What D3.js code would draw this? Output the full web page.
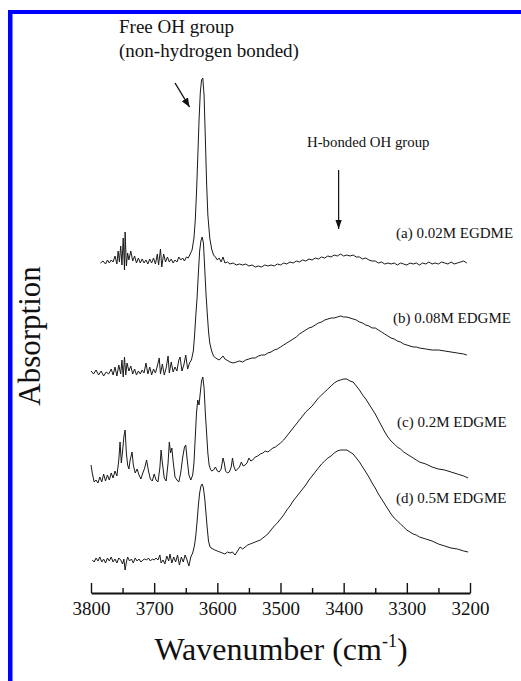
<!DOCTYPE html>
<html>
<head>
<meta charset="utf-8">
<script src="https://cdn.jsdelivr.net/npm/d3@7"></script>
<style>
  html, body { margin: 0; padding: 0; background: #fff; }
  svg { display: block; }
  text { font-family: "Liberation Serif", "DejaVu Serif", serif; fill: #111; }
</style>
</head>
<body>
<div id="chart"></div>
<script>
// ---------- DATA ----------
const xTicksMajor = [3800, 3700, 3600, 3500, 3400, 3300, 3200];
const xTicksMinor = [3750, 3650, 3550, 3450, 3350, 3250];
const seriesLabels = ["(a) 0.02M EGDME", "(b) 0.08M EDGME", "(c) 0.2M EDGME", "(d) 0.5M EDGME"];

// [wavenumber (cm-1), absorption (offset, a.u.)]
const specA = [
[3785,3.30],[3781,3.32],[3777,3.29],[3774,3.33],[3771,3.30],[3768,3.33],[3765,3.31],[3762,3.37],[3759,3.29],[3757,3.42],
[3755,3.31],[3753,3.47],[3751,3.28],[3749,3.55],[3747,3.23],[3746,3.61],[3744,3.27],[3742,3.40],[3740,3.33],[3737,3.42],
[3734,3.32],[3731,3.37],[3728,3.30],[3725,3.35],[3722,3.30],[3719,3.34],[3716,3.30],[3713,3.33],[3710,3.29],[3707,3.34],
[3704,3.30],[3701,3.35],[3698,3.29],[3695,3.39],[3693,3.28],[3690,3.44],[3688,3.26],[3685,3.39],[3682,3.31],[3679,3.36],
[3676,3.31],[3673,3.34],[3670,3.30],[3667,3.33],[3664,3.31],[3661,3.36],[3658,3.33],[3655,3.35],[3652,3.32],[3649,3.36],
[3646,3.35],[3643,3.39],[3640,3.43],[3637,3.55],[3635,3.72],[3633,4.00],[3631,4.35],[3629,4.72],[3627,5.00],[3625,5.13],
[3623,5.15],[3621,4.98],[3619,4.55],[3617,4.10],[3615,3.78],[3612,3.55],[3609,3.44],[3606,3.38],[3603,3.36],[3600,3.33],
[3597,3.35],[3594,3.31],[3591,3.36],[3588,3.30],[3584,3.31],[3580,3.29],[3575,3.30],[3570,3.28],[3565,3.29],[3560,3.28],
[3555,3.29],[3550,3.27],[3545,3.28],[3540,3.26],[3535,3.27],[3530,3.26],[3525,3.28],[3520,3.27],[3515,3.28],[3510,3.27],
[3505,3.29],[3500,3.28],[3495,3.30],[3490,3.29],[3485,3.31],[3480,3.30],[3475,3.32],[3470,3.31],[3465,3.33],[3460,3.32],
[3455,3.34],[3450,3.33],[3445,3.35],[3440,3.34],[3435,3.36],[3430,3.35],[3425,3.37],[3420,3.36],[3415,3.38],[3410,3.37],
[3405,3.39],[3400,3.37],[3395,3.38],[3390,3.37],[3385,3.38],[3380,3.36],[3375,3.36],[3370,3.34],[3365,3.35],[3360,3.33],
[3355,3.32],[3350,3.32],[3345,3.30],[3340,3.31],[3335,3.29],[3330,3.30],[3325,3.29],[3320,3.30],[3315,3.28],[3310,3.30],
[3305,3.29],[3300,3.28],[3295,3.30],[3290,3.29],[3285,3.30],[3280,3.28],[3275,3.30],[3270,3.29],[3265,3.31],[3260,3.29],
[3255,3.30],[3250,3.29],[3245,3.31],[3240,3.30],[3235,3.29],[3230,3.31],[3225,3.29],[3220,3.30],[3215,3.31],[3210,3.32],[3205,3.30]
];

const specB = [
[3800,2.22],[3796,2.19],[3792,2.23],[3788,2.18],[3784,2.22],[3780,2.17],[3776,2.21],[3772,2.19],[3768,2.24],[3765,2.18],
[3762,2.26],[3759,2.17],[3756,2.28],[3753,2.19],[3751,2.33],[3749,2.16],[3747,2.36],[3745,2.18],[3743,2.30],[3740,2.22],
[3737,2.27],[3734,2.19],[3731,2.24],[3728,2.18],[3725,2.22],[3722,2.19],[3719,2.23],[3716,2.20],[3713,2.30],[3710,2.19],
[3707,2.26],[3704,2.18],[3701,2.24],[3698,2.20],[3695,2.27],[3692,2.35],[3690,2.19],[3687,2.29],[3684,2.18],[3681,2.25],
[3678,2.37],[3676,2.20],[3673,2.31],[3670,2.21],[3667,2.26],[3664,2.22],[3661,2.33],[3659,2.36],[3656,2.22],[3653,2.28],
[3650,2.38],[3647,2.24],[3644,2.30],[3641,2.33],[3638,2.42],[3636,2.58],[3634,2.78],[3632,2.96],[3630,3.20],[3628,3.42],
[3626,3.52],[3624,3.56],[3622,3.50],[3620,3.25],[3618,3.00],[3616,2.80],[3614,2.62],[3612,2.50],[3609,2.42],[3606,2.37],
[3603,2.35],[3600,2.34],[3597,2.33],[3594,2.35],[3591,2.37],[3588,2.34],[3585,2.33],[3580,2.31],[3575,2.30],[3570,2.31],
[3565,2.32],[3560,2.31],[3555,2.33],[3550,2.34],[3545,2.35],[3540,2.35],[3535,2.37],[3530,2.38],[3525,2.38],[3520,2.40],
[3515,2.41],[3510,2.43],[3505,2.44],[3500,2.46],[3495,2.48],[3490,2.50],[3485,2.52],[3480,2.54],[3475,2.56],[3470,2.59],
[3465,2.61],[3460,2.63],[3455,2.65],[3450,2.66],[3445,2.68],[3440,2.70],[3435,2.71],[3430,2.73],[3425,2.74],[3420,2.75],
[3415,2.75],[3410,2.76],[3405,2.77],[3400,2.76],[3395,2.76],[3390,2.75],[3385,2.74],[3380,2.73],[3375,2.71],[3370,2.70],
[3365,2.68],[3360,2.67],[3355,2.65],[3350,2.65],[3345,2.63],[3340,2.61],[3335,2.59],[3330,2.57],[3325,2.55],[3320,2.54],
[3315,2.52],[3310,2.51],[3305,2.49],[3300,2.48],[3295,2.47],[3290,2.46],[3285,2.46],[3280,2.45],[3270,2.44],[3260,2.43],
[3250,2.43],[3240,2.42],[3230,2.41],[3220,2.40],[3210,2.39],[3205,2.38]
];

const specC = [
[3800,1.28],[3798,1.20],[3795,1.11],[3792,1.13],[3789,1.10],[3786,1.16],[3783,1.11],[3780,1.19],[3777,1.12],[3774,1.18],
[3771,1.13],[3768,1.20],[3765,1.15],[3762,1.22],[3759,1.17],[3756,1.33],[3754,1.51],[3752,1.30],[3750,1.42],[3748,1.56],
[3746,1.63],[3744,1.40],[3742,1.28],[3740,1.24],[3738,1.33],[3735,1.41],[3733,1.28],[3730,1.20],[3727,1.24],[3724,1.18],
[3721,1.14],[3718,1.20],[3715,1.25],[3712,1.33],[3709,1.22],[3706,1.14],[3703,1.12],[3700,1.19],[3697,1.13],[3694,1.11],
[3691,1.25],[3689,1.43],[3687,1.30],[3684,1.15],[3681,1.12],[3678,1.30],[3676,1.51],[3674,1.40],[3672,1.45],[3670,1.32],
[3667,1.16],[3664,1.13],[3661,1.11],[3658,1.20],[3655,1.35],[3652,1.46],[3650,1.48],[3648,1.35],[3645,1.18],[3642,1.13],
[3639,1.18],[3637,1.30],[3635,1.55],[3633,1.80],[3631,1.93],[3629,1.88],[3627,2.00],[3625,2.12],[3623,2.16],[3621,2.05],
[3619,1.80],[3617,1.60],[3615,1.40],[3613,1.28],[3611,1.24],[3609,1.22],[3606,1.23],[3603,1.26],[3600,1.22],[3597,1.21],
[3594,1.24],[3591,1.35],[3589,1.30],[3587,1.22],[3584,1.20],[3581,1.21],[3578,1.26],[3576,1.35],[3574,1.27],[3571,1.22],
[3568,1.24],[3565,1.26],[3562,1.31],[3559,1.27],[3556,1.28],[3553,1.30],[3550,1.35],[3547,1.32],[3544,1.33],[3540,1.36],
[3536,1.37],[3532,1.39],[3528,1.40],[3524,1.42],[3520,1.41],[3516,1.43],[3512,1.45],[3508,1.46],[3504,1.48],[3500,1.50],
[3495,1.53],[3490,1.57],[3485,1.61],[3480,1.65],[3475,1.69],[3470,1.73],[3465,1.77],[3460,1.81],[3455,1.84],[3450,1.87],
[3445,1.91],[3440,1.95],[3435,1.98],[3430,2.01],[3425,2.04],[3420,2.07],[3415,2.10],[3410,2.12],[3405,2.13],[3400,2.14],
[3395,2.14],[3390,2.12],[3385,2.11],[3380,2.07],[3375,2.03],[3370,1.98],[3365,1.94],[3360,1.89],[3355,1.84],[3350,1.79],
[3345,1.73],[3340,1.67],[3335,1.61],[3330,1.56],[3325,1.52],[3320,1.49],[3315,1.46],[3310,1.44],[3305,1.41],[3300,1.39],
[3295,1.37],[3290,1.35],[3285,1.33],[3280,1.31],[3270,1.29],[3260,1.26],[3250,1.24],[3240,1.23],[3230,1.21],[3220,1.19],
[3210,1.17],[3203,1.15]
];

const specD = [
[3798,0.33],[3795,0.31],[3792,0.35],[3789,0.32],[3786,0.36],[3783,0.31],[3780,0.34],[3777,0.30],[3774,0.35],[3771,0.32],
[3768,0.36],[3765,0.31],[3762,0.34],[3759,0.30],[3756,0.35],[3753,0.33],[3750,0.29],[3748,0.34],[3746,0.23],[3744,0.31],
[3742,0.36],[3739,0.32],[3736,0.34],[3733,0.30],[3730,0.35],[3727,0.32],[3724,0.34],[3721,0.31],[3718,0.33],[3715,0.34],
[3712,0.33],[3709,0.35],[3706,0.32],[3703,0.34],[3700,0.33],[3697,0.35],[3694,0.33],[3691,0.38],[3689,0.30],[3686,0.33],
[3683,0.29],[3680,0.37],[3677,0.32],[3675,0.39],[3672,0.30],[3669,0.36],[3666,0.31],[3663,0.38],[3660,0.28],[3657,0.36],
[3654,0.31],[3651,0.38],[3648,0.33],[3645,0.27],[3642,0.36],[3639,0.40],[3636,0.48],[3634,0.58],[3632,0.72],[3630,0.88],
[3628,1.00],[3626,1.07],[3624,1.09],[3622,1.05],[3620,0.95],[3618,0.80],[3616,0.65],[3614,0.52],[3612,0.47],[3610,0.45],
[3607,0.44],[3604,0.43],[3600,0.42],[3596,0.41],[3592,0.40],[3588,0.39],[3584,0.41],[3580,0.40],[3576,0.41],[3572,0.38],
[3568,0.42],[3564,0.46],[3560,0.44],[3556,0.46],[3552,0.48],[3548,0.49],[3544,0.50],[3540,0.51],[3536,0.52],[3532,0.53],
[3528,0.55],[3524,0.57],[3520,0.59],[3515,0.63],[3510,0.67],[3505,0.70],[3500,0.74],[3495,0.78],[3490,0.83],[3485,0.87],
[3480,0.92],[3475,0.96],[3470,1.00],[3465,1.04],[3460,1.08],[3455,1.13],[3450,1.17],[3445,1.21],[3440,1.25],[3435,1.29],
[3430,1.32],[3425,1.35],[3420,1.37],[3415,1.40],[3410,1.42],[3405,1.43],[3400,1.43],[3395,1.43],[3390,1.41],[3385,1.39],
[3380,1.35],[3375,1.31],[3370,1.26],[3365,1.21],[3360,1.16],[3355,1.10],[3350,1.05],[3345,0.99],[3340,0.94],[3335,0.89],
[3330,0.84],[3325,0.79],[3320,0.75],[3315,0.72],[3310,0.69],[3305,0.66],[3300,0.63],[3295,0.61],[3290,0.59],[3285,0.58],
[3280,0.56],[3270,0.54],[3260,0.52],[3250,0.49],[3240,0.47],[3230,0.45],[3220,0.44],[3210,0.42],[3203,0.41]
];

const spectra = [specA, specB, specC, specD];

// ---------- CHART ----------
const W = 521, H = 681;
const svg = d3.select("#chart").append("svg").attr("width", W).attr("height", H);
svg.append("rect").attr("width", W).attr("height", H).attr("fill", "#fff");

// blue frame
svg.append("rect").attr("x", 8).attr("y", 10).attr("width", 4.5).attr("height", H - 10).attr("fill", "#0000ff");
svg.append("rect").attr("x", 8).attr("y", 10).attr("width", W - 8).attr("height", 4).attr("fill", "#0000ff");

const x = d3.scaleLinear().domain([3800, 3200]).range([91, 470]);
const y = d3.scaleLinear().domain([0, 5.2]).range([593, 73]);

const line = d3.line().x(d => x(d[0])).y(d => y(d[1]));

svg.append("g").selectAll("path").data(spectra).join("path")
  .attr("d", line).attr("fill", "none").attr("stroke", "#1a1a1a")
  .attr("stroke-width", 1).attr("stroke-linejoin", "round");

// axis
const axisY = y(0);
const gAx = svg.append("g").attr("transform", `translate(0,${axisY})`)
  .call(d3.axisBottom(x).tickValues(xTicksMajor).tickSize(-10).tickSizeOuter(0).tickPadding(9).tickFormat(d3.format("d")));
gAx.select(".domain").attr("stroke", "#111").attr("stroke-width", 1.8);
gAx.selectAll(".tick line").attr("stroke", "#111").attr("stroke-width", 1.4);
gAx.selectAll(".tick text").attr("font-size", 19).attr("fill", "#111");

const gMin = svg.append("g").attr("transform", `translate(0,${axisY})`)
  .call(d3.axisBottom(x).tickValues(xTicksMinor).tickSize(-5).tickFormat(""));
gMin.select(".domain").remove();
gMin.selectAll(".tick line").attr("stroke", "#111").attr("stroke-width", 1.4);

// axis titles
const xt = svg.append("text").attr("x", 281).attr("y", 660).attr("text-anchor", "middle").attr("font-size", 32);
xt.append("tspan").text("Wavenumber (cm");
xt.append("tspan").attr("font-size", 18).attr("dy", -13).text("-1");
xt.append("tspan").attr("dy", 13).text(")");

svg.append("text").attr("transform", "translate(40,336) rotate(-90)")
  .attr("text-anchor", "middle").attr("font-size", 31).text("Absorption");

// annotations
svg.append("text").attr("x", 119).attr("y", 33).attr("font-size", 19).text("Free OH group");
svg.append("text").attr("x", 119).attr("y", 57).attr("font-size", 19).text("(non-hydrogen bonded)");
svg.append("text").attr("x", 307).attr("y", 147).attr("font-size", 14.8).text("H-bonded OH group");

const defs = svg.append("defs");
defs.append("marker").attr("id", "ah").attr("viewBox", "0 0 10 10").attr("refX", 10).attr("refY", 5)
  .attr("markerWidth", 9).attr("markerHeight", 9).attr("markerUnits", "userSpaceOnUse").attr("orient", "auto")
  .append("path").attr("d", "M0,1 L10,5 L0,9 Z").attr("fill", "#111");
defs.append("marker").attr("id", "ah2").attr("viewBox", "0 0 10 10").attr("refX", 10).attr("refY", 5)
  .attr("markerWidth", 16).attr("markerHeight", 9).attr("markerUnits", "userSpaceOnUse").attr("orient", "auto")
  .append("path").attr("d", "M0,1.5 L10,5 L0,8.5 Z").attr("fill", "#111");

svg.append("line").attr("x1", x(3667)).attr("y1", y(5.10)).attr("x2", x(3644)).attr("y2", y(4.86))
  .attr("stroke", "#111").attr("stroke-width", 1.4).attr("marker-end", "url(#ah)");
svg.append("line").attr("x1", x(3408)).attr("y1", 170).attr("x2", x(3408)).attr("y2", 229)
  .attr("stroke", "#111").attr("stroke-width", 1.2).attr("marker-end", "url(#ah2)");

// series labels
const labelPos = [[396, 238], [393, 323], [397, 427], [396, 503]];
svg.append("g").selectAll("text").data(seriesLabels).join("text")
  .attr("x", (d, i) => labelPos[i][0]).attr("y", (d, i) => labelPos[i][1])
  .attr("font-size", 15).text(d => d);
</script>
</body>
</html>
